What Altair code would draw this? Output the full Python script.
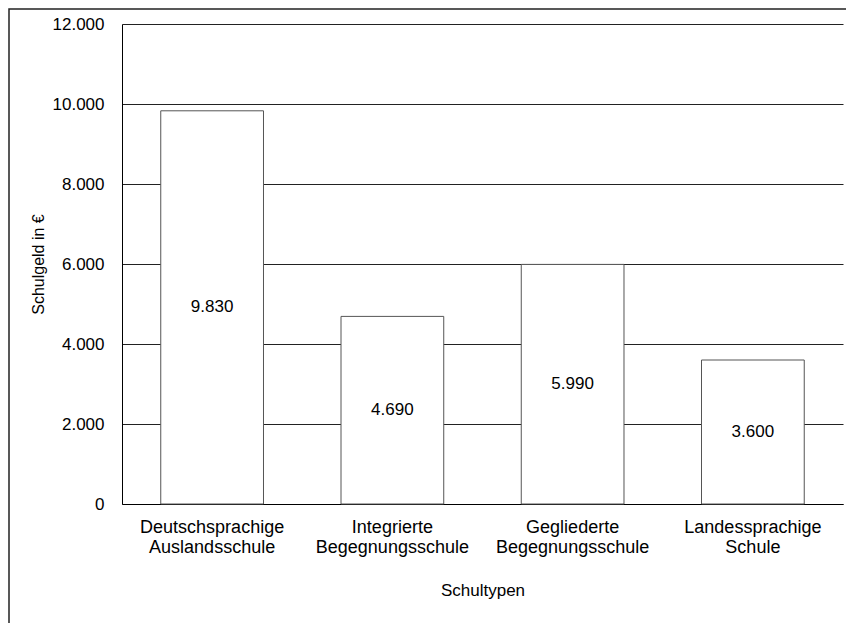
import altair as alt
import pandas as pd

categories = ["Deutschsprachige|Auslandsschule", "Integrierte|Begegnungsschule",
              "Gegliederte|Begegnungsschule", "Landessprachige|Schule"]
values = [9830, 4690, 5990, 3600]
y_ticks = [0, 2000, 4000, 6000, 8000, 10000, 12000]

df = pd.DataFrame({"cat": categories, "value": values})
FONT = "Liberation Sans"

base = alt.Chart(df).transform_calculate(
    lbl="replace(format(datum.value, ',.0f'), ',', '.')",
    mid="datum.value / 2",
)

x_enc = alt.X("cat:N", sort=categories, title="Schultypen",
              scale=alt.Scale(paddingInner=0.43, paddingOuter=0.215),
              axis=alt.Axis(labelAngle=0, labelExpr="split(datum.label, '|')",
                            ticks=False, domainColor="#000", labelPadding=14,
                            labelFontSize=18, labelFont=FONT, labelColor="#000",
                            labelLineHeight=20, titleFontSize=17, titleFont=FONT,
                            titleFontWeight="normal", titleColor="#000",
                            titlePadding=26))

bars = base.mark_bar(fill="white", stroke="#555", strokeWidth=1).encode(
    x=x_enc,
    y=alt.Y("value:Q", title="Schulgeld in €",
            scale=alt.Scale(domain=[0, 12000], nice=False),
            axis=alt.Axis(values=y_ticks, ticks=False, domainColor="#000",
                          gridColor="#222", gridWidth=1,
                          labelExpr="replace(format(datum.value, ',.0f'), ',', '.')",
                          labelPadding=18, labelFontSize=17, labelFont=FONT,
                          labelColor="#000", titleFontSize=16, titleFont=FONT,
                          titleFontWeight="normal", titleColor="#000",
                          titlePadding=6)),
)

texts = base.mark_text(fontSize=17, font=FONT, color="#000").encode(
    x=alt.X("cat:N", sort=categories),
    y=alt.Y("mid:Q"),
    text="lbl:N",
)

frame_df = pd.DataFrame({"k": [0]})
frame = alt.Chart(frame_df).mark_rect(fill="white", fillOpacity=0, stroke="#222",
                                      strokeWidth=1.5, clip=False).encode(
    x=alt.value(-113), x2=alt.value(760), y=alt.value(-15), y2=alt.value(660)
)

chart = alt.layer(bars, texts, frame).properties(
    width=721, height=480,
    autosize=alt.AutoSizeParams(type="none"),
    padding={"left": 114, "top": 16, "right": 3, "bottom": 119},
).configure_view(stroke=None).configure_axis(grid=True).configure_axisX(grid=False)

chart.save("out.html", embed_options={"renderer": "svg", "actions": False})
